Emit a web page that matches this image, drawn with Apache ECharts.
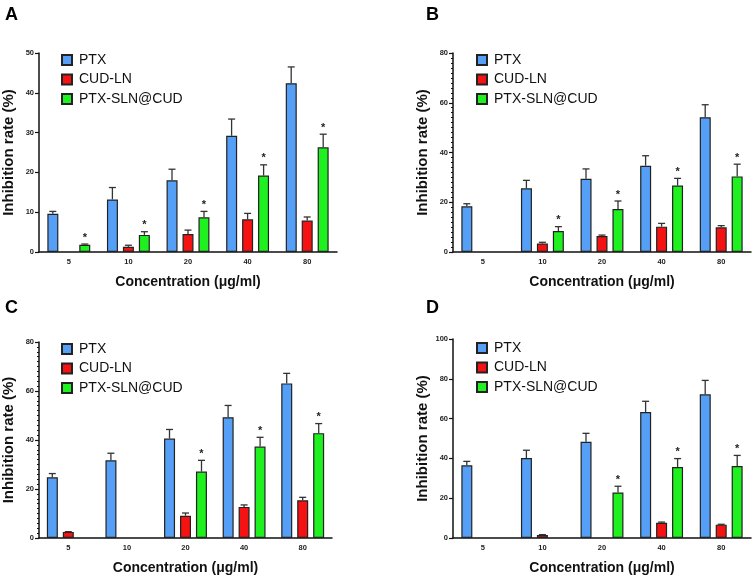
<!DOCTYPE html>
<html>
<head>
<meta charset="utf-8">
<script src="https://cdn.jsdelivr.net/npm/echarts@6/dist/echarts.min.js"></script>
<style>
  html, body { margin: 0; padding: 0; background: #fff; }
  #chart { width: 753px; height: 576px; }
</style>
</head>
<body>
<div id="chart"></div>
<script>
var categories = ['5', '10', '20', '40', '80'];
var seriesNames = ['PTX', 'CUD-LN', 'PTX-SLN@CUD'];

// panel A
var ptxA = [9.6, 13.2, 18.0, 29.2, 42.4];
var ptxErrA = [0.6, 3.0, 2.8, 4.2, 4.1];
var cudA = [null, 1.3, 4.5, 8.2, 7.9];
var cudErrA = [0, 0.4, 1.0, 1.5, 0.9];
var slnA = [1.8, 4.3, 8.7, 19.2, 26.3];
var slnErrA = [0.2, 0.8, 1.5, 2.7, 3.3];
var starsA = [1, 1, 1, 1, 1];

// panel B
var ptxB = [18.4, 25.6, 29.4, 34.7, 54.2];
var ptxErrB = [1.0, 3.2, 4.0, 4.0, 5.0];
var cudB = [null, 3.4, 6.4, 10.2, 9.9];
var cudErrB = [0, 0.5, 0.4, 1.3, 0.7];
var slnB = [null, 8.4, 17.3, 26.7, 30.4];
var slnErrB = [0, 1.8, 3.2, 2.9, 4.9];
var starsB = [0, 1, 1, 1, 1];

// panel C
var ptxC = [24.8, 31.7, 40.6, 49.3, 63.1];
var ptxErrC = [1.5, 2.9, 3.7, 4.8, 4.1];
var cudC = [2.5, null, 9.1, 12.7, 15.4];
var cudErrC = [0.1, 0, 1.1, 0.8, 1.2];
var slnC = [null, null, 27.1, 37.3, 42.8];
var slnErrC = [0, 0, 4.6, 3.8, 3.9];
var starsC = [0, 0, 1, 1, 1];

// panel D
var ptxD = [36.5, 40.2, 48.4, 63.3, 72.2];
var ptxErrD = [2.0, 3.9, 4.2, 5.4, 7.0];
var cudD = [null, 1.5, null, 7.7, 6.7];
var cudErrD = [0, 0.2, 0, 0.3, 0.2];
var slnD = [null, null, 22.9, 35.7, 36.2];
var slnErrD = [0, 0, 3.1, 4.2, 5.3];
var starsD = [0, 0, 1, 1, 1];

var yMax = [50, 80, 80, 100];
var yStep = [10, 20, 20, 20];
var yMinor = [false, true, true, false];
var panelLabels = ['A', 'B', 'C', 'D'];

var FONT = '"Liberation Sans", Arial, sans-serif';
var colors = ['#559ff7', '#f51212', '#1ff01f'];
var BAR_W = 11;
var BAR_STEP = 16;

var grids = [
  { left: 39, top: 53, width: 298, height: 199 },
  { left: 453, top: 53, width: 298, height: 199 },
  { left: 38, top: 342, width: 294, height: 196 },
  { left: 453, top: 339, width: 298, height: 199 }
];
var legendPos = [[61, 51], [476, 51], [61, 340], [476, 339]];
var labelPos = [[5, 6], [426, 6], [5, 299], [426, 299]];

var panels = [
  [ptxA, ptxErrA, cudA, cudErrA, slnA, slnErrA, starsA],
  [ptxB, ptxErrB, cudB, cudErrB, slnB, slnErrB, starsB],
  [ptxC, ptxErrC, cudC, cudErrC, slnC, slnErrC, starsC],
  [ptxD, ptxErrD, cudD, cudErrD, slnD, slnErrD, starsD]
];

function errSeries(gi, vals, errs, stars, off) {
  var data = [];
  vals.forEach(function (v, i) {
    if (v != null) data.push([i, v, errs[i], stars ? stars[i] : 0]);
  });
  return {
    type: 'custom',
    xAxisIndex: gi,
    yAxisIndex: gi,
    z: 5,
    silent: true,
    data: data,
    renderItem: function (params, api) {
      var p0 = api.coord([api.value(0), api.value(1)]);
      var p1 = api.coord([api.value(0), api.value(1) + api.value(2)]);
      var x = p0[0] + off;
      var st = { stroke: '#333', lineWidth: 1.3 };
      var kids = [
        { type: 'line', shape: { x1: x, y1: p0[1], x2: x, y2: p1[1] }, style: st },
        { type: 'line', shape: { x1: x - 3.5, y1: p1[1], x2: x + 3.5, y2: p1[1] }, style: st }
      ];
      if (api.value(3)) {
        kids.push({
          type: 'text',
          style: {
            text: '*', x: x, y: p1[1] - 1,
            align: 'center', verticalAlign: 'bottom',
            font: 'bold 11px ' + FONT, fill: '#222'
          }
        });
      }
      return { type: 'group', children: kids };
    }
  };
}

var xAxes = [], yAxes = [], series = [], legends = [], graphics = [];

grids.forEach(function (g, gi) {
  xAxes.push({
    type: 'category',
    gridIndex: gi,
    data: categories,
    name: 'Concentration (μg/ml)',
    nameLocation: 'middle',
    nameGap: 23,
    nameTextStyle: { fontFamily: FONT, fontWeight: 'bold', fontSize: 14, color: '#111' },
    axisLine: { lineStyle: { color: '#111', width: 1.5 } },
    axisTick: { alignWithLabel: true, length: 4, lineStyle: { color: '#111', width: 1.2 } },
    axisLabel: { fontFamily: FONT, fontWeight: 'bold', fontSize: 7.5, color: '#222', margin: 6 },
    splitLine: { show: false }
  });
  yAxes.push({
    type: 'value',
    gridIndex: gi,
    min: 0,
    max: yMax[gi],
    interval: yStep[gi],
    name: 'Inhibition rate (%)',
    nameLocation: 'middle',
    nameGap: 23,
    nameTextStyle: { fontFamily: FONT, fontWeight: 'bold', fontSize: 15, color: '#111' },
    axisLine: { show: true, lineStyle: { color: '#111', width: 1.5 } },
    axisTick: { show: true, length: 4, lineStyle: { color: '#111', width: 1.2 } },
    minorTick: { show: yMinor[gi], splitNumber: 10, length: 2, lineStyle: { color: '#111', width: 1 } },
    axisLabel: { fontFamily: FONT, fontWeight: 'bold', fontSize: 7.5, color: '#222', margin: 5 },
    splitLine: { show: false }
  });

  var p = panels[gi];
  for (var k = 0; k < 3; k++) {
    series.push({
      type: 'bar',
      name: seriesNames[k],
      xAxisIndex: gi,
      yAxisIndex: gi,
      data: p[k * 2],
      barWidth: BAR_W,
      barGap: '45%',
      itemStyle: { color: colors[k], borderColor: '#222', borderWidth: 1.2 },
      silent: true
    });
  }
  for (var k2 = 0; k2 < 3; k2++) {
    series.push(errSeries(gi, p[k2 * 2], p[k2 * 2 + 1], k2 === 2 ? p[6] : null, (k2 - 1) * BAR_STEP));
  }

  legends.push({
    data: seriesNames,
    orient: 'vertical',
    left: legendPos[gi][0],
    top: legendPos[gi][1] + 2,
    padding: 0,
    itemWidth: 10,
    itemHeight: 10,
    itemGap: 5.5,
    icon: 'rect',
    selectedMode: false,
    textStyle: { fontFamily: FONT, fontSize: 14, color: '#111', padding: [0, 0, 0, 2] }
  });

  graphics.push({
    type: 'text',
    left: labelPos[gi][0],
    top: labelPos[gi][1],
    style: { text: panelLabels[gi], font: 'bold 18px ' + FONT, fill: '#000' }
  });
});

var chart = echarts.init(document.getElementById('chart'), null, { renderer: 'canvas' });
chart.setOption({
  animation: false,
  backgroundColor: '#fff',
  grid: grids,
  xAxis: xAxes,
  yAxis: yAxes,
  legend: legends,
  graphic: graphics,
  series: series
});
</script>
</body>
</html>
